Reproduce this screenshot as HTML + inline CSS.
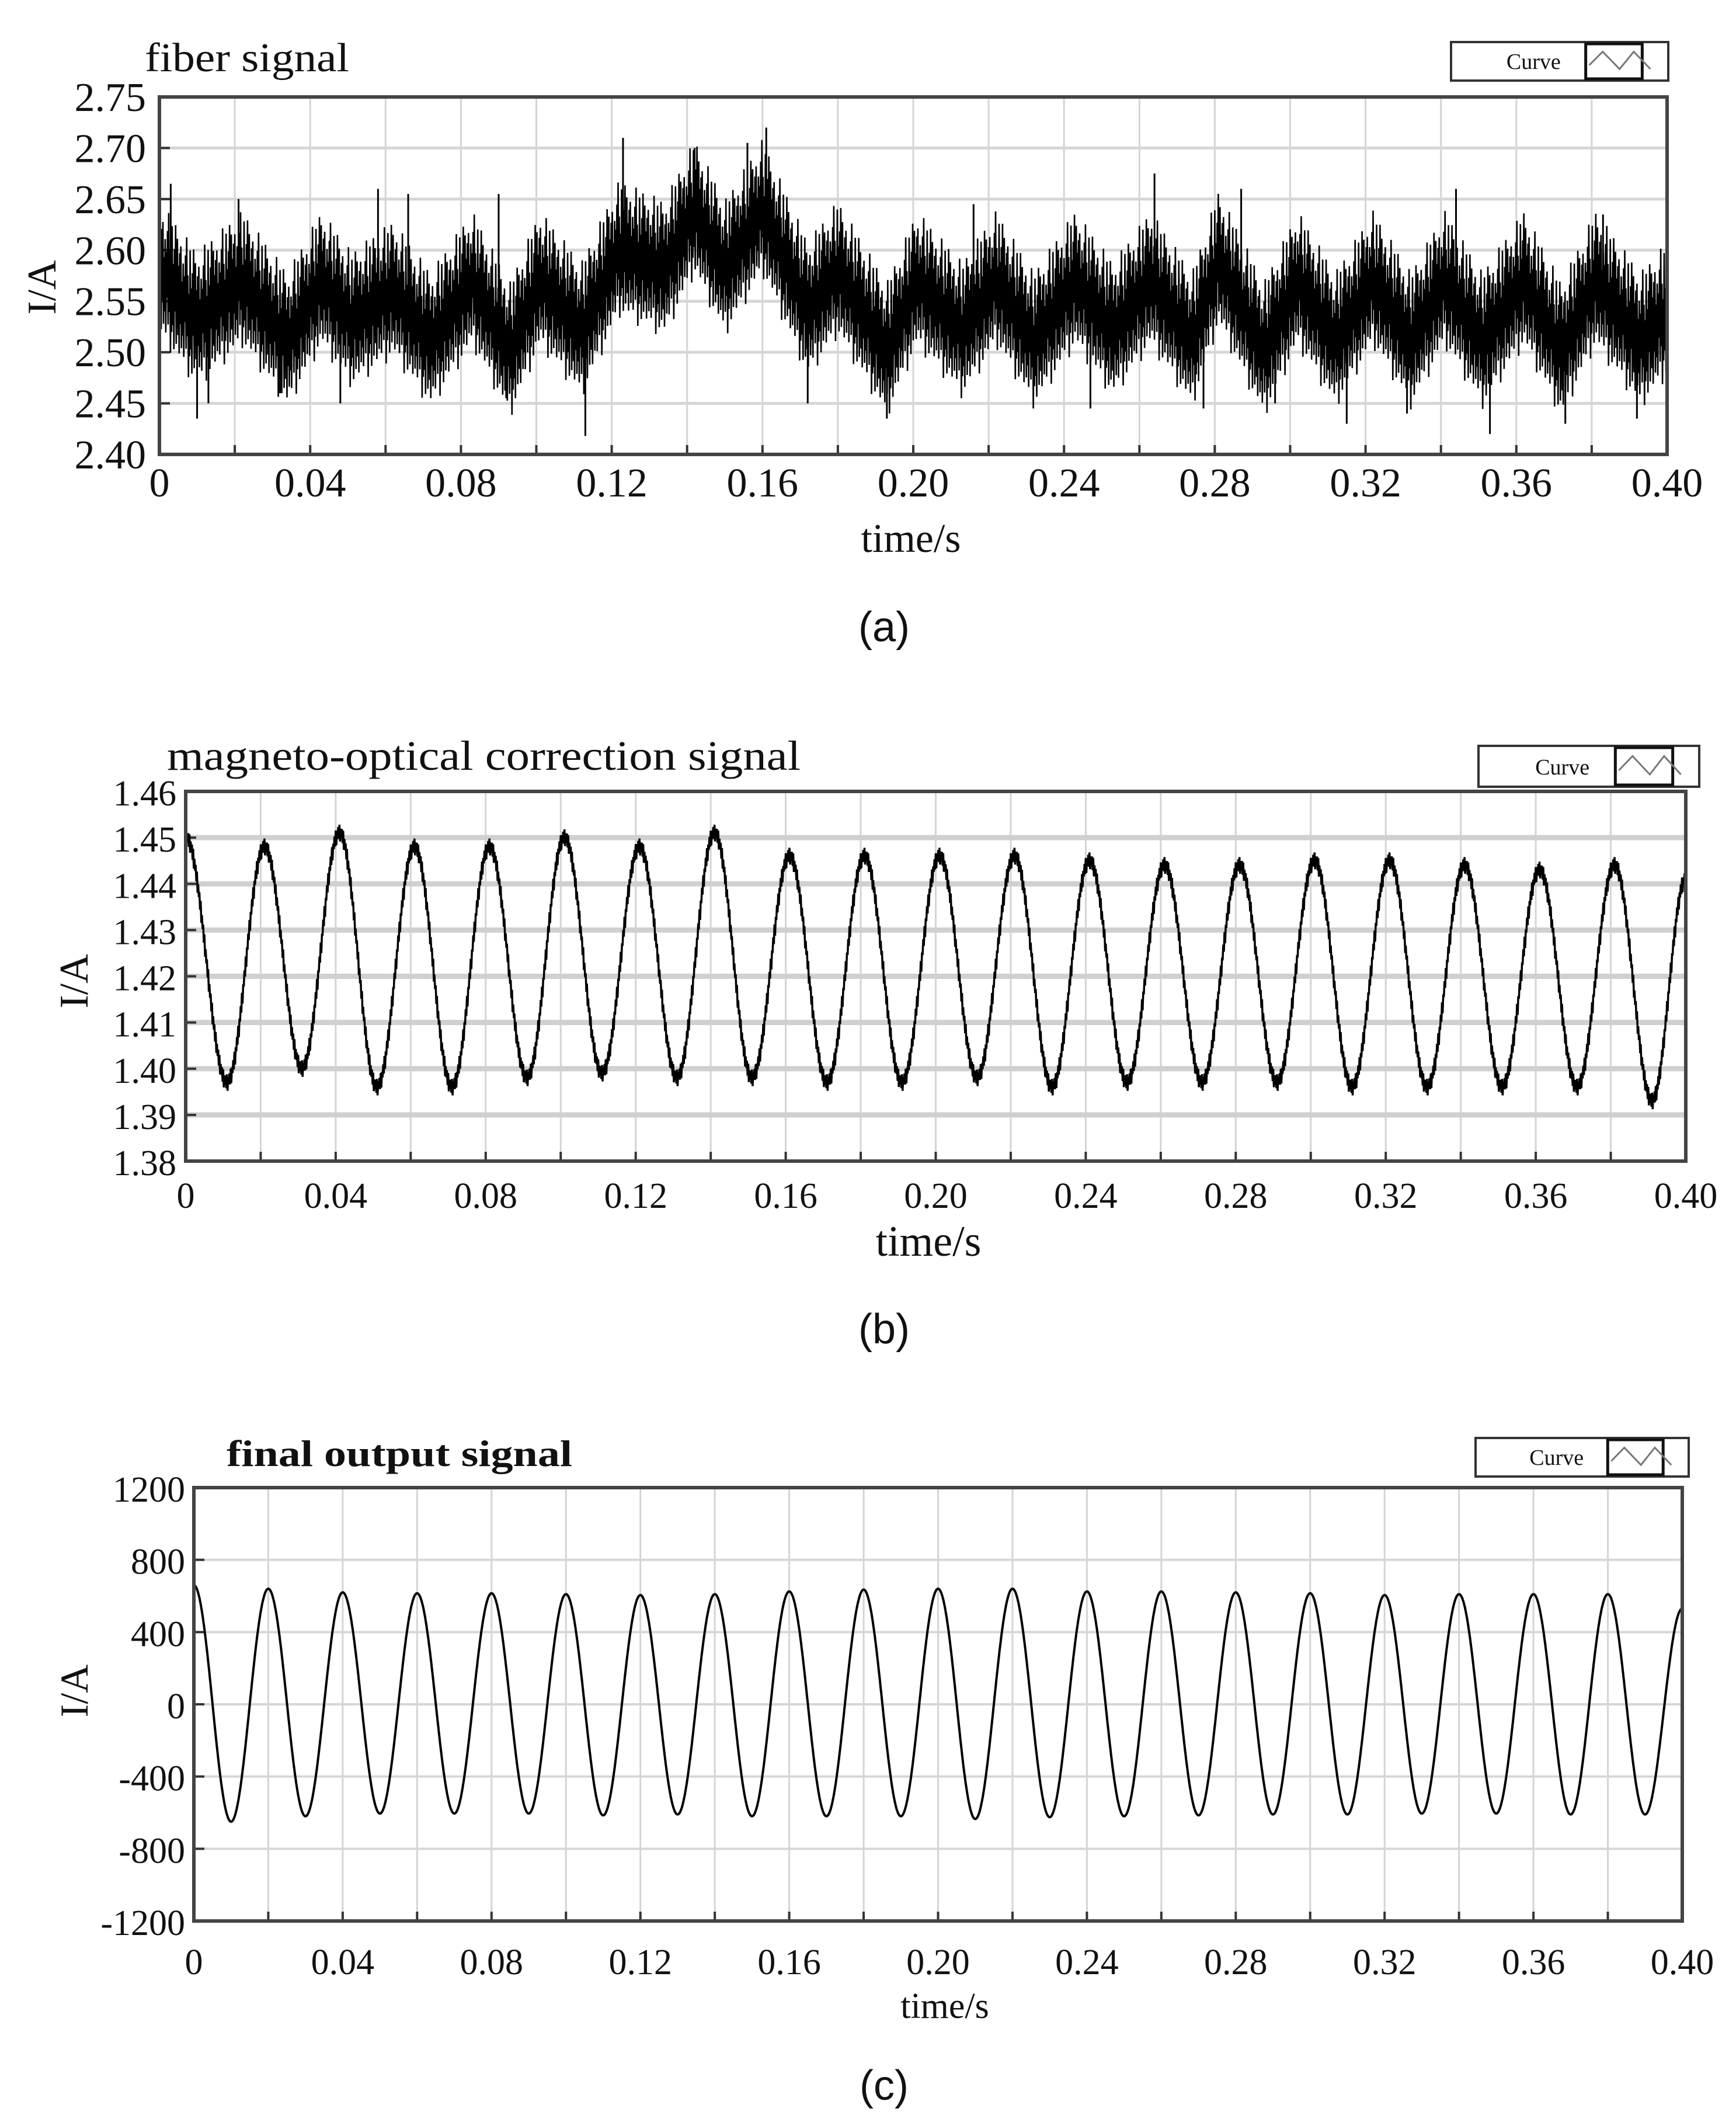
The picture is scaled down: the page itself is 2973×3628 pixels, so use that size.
<!DOCTYPE html>
<html><head><meta charset="utf-8"><style>
html,body{margin:0;padding:0;background:#fff;}
svg{display:block;}
text{font-family:"Liberation Serif",serif;fill:#111;}
</style></head><body>
<svg id="fig" width="2973" height="3628" viewBox="0 0 2973 3628" xmlns="http://www.w3.org/2000/svg">
<g id="pa"></g>
<g id="pb"></g>
<g id="pc"></g>
</svg>
<script>
// ---- panel (a) fiber signal data ----
const aTicksY = [2.40, 2.45, 2.50, 2.55, 2.60, 2.65, 2.70, 2.75];
const aTickLabelsY = ["2.40","2.45","2.50","2.55","2.60","2.65","2.70","2.75"];
const aCenterT = [0, 0.010, 0.022, 0.034, 0.043, 0.051, 0.062, 0.072, 0.083, 0.093, 0.101, 0.112, 0.122, 0.134, 0.142, 0.150, 0.160, 0.172, 0.180, 0.193, 0.201, 0.213, 0.222, 0.232, 0.243, 0.253, 0.263, 0.274, 0.281, 0.293, 0.302, 0.312, 0.322, 0.332, 0.341, 0.351, 0.362, 0.372, 0.381, 0.393, 0.400];
const aCenterV = [2.58, 2.53, 2.57, 2.51, 2.57, 2.53, 2.56, 2.51, 2.57, 2.50, 2.57, 2.52, 2.60, 2.58, 2.64, 2.58, 2.64, 2.54, 2.58, 2.50, 2.57, 2.52, 2.57, 2.51, 2.57, 2.52, 2.57, 2.51, 2.59, 2.50, 2.57, 2.51, 2.57, 2.51, 2.57, 2.51, 2.57, 2.50, 2.57, 2.51, 2.54];
const aSpikeT = [0.003, 0.010, 0.013, 0.021, 0.032, 0.048, 0.058, 0.066, 0.090, 0.092, 0.113, 0.123, 0.142, 0.156, 0.161, 0.172, 0.193, 0.216, 0.247, 0.264, 0.277, 0.287, 0.296, 0.315, 0.331, 0.344, 0.353, 0.373, 0.383, 0.392];
const aSpikeV = [2.665, 2.435, 2.45, 2.65, 2.46, 2.45, 2.66, 2.655, 2.655, 2.455, 2.418, 2.71, 2.70, 2.705, 2.72, 2.45, 2.435, 2.645, 2.445, 2.675, 2.445, 2.66, 2.45, 2.43, 2.44, 2.66, 2.42, 2.43, 2.635, 2.435];
// ---- panel (b) magneto-optical correction ----
const bTicksY = [1.38, 1.39, 1.40, 1.41, 1.42, 1.43, 1.44, 1.45, 1.46];
const bTickLabelsY = ["1.38","1.39","1.40","1.41","1.42","1.43","1.44","1.45","1.46"];
const bPeakV = [1.448, 1.451, 1.448, 1.448, 1.450, 1.448, 1.451, 1.446, 1.446, 1.446, 1.446, 1.445, 1.444, 1.444, 1.445, 1.445, 1.444, 1.443, 1.444];
const bTroughV = [1.397, 1.400, 1.396, 1.396, 1.398, 1.399, 1.398, 1.398, 1.397, 1.397, 1.398, 1.396, 1.397, 1.397, 1.397, 1.396, 1.396, 1.396, 1.396, 1.393];
const bStartV = 1.450, bEndV = 1.441;
// ---- panel (c) final output ----
const cTicksY = [-1200, -800, -400, 0, 400, 800, 1200];
const cTickLabelsY = ["-1200","-800","-400","0","400","800","1200"];
const cPeakV = [640, 620, 615, 615, 610, 605, 610, 625, 635, 640, 640, 625, 625, 620, 615, 605, 610, 610, 610];
const cTroughV = [-650, -620, -605, -605, -605, -615, -610, -620, -620, -620, -635, -625, -620, -615, -610, -610, -605, -605, -610, -610];
const cStartV = 660, cEndV = 530;
const xTicks = [0, 0.04, 0.08, 0.12, 0.16, 0.20, 0.24, 0.28, 0.32, 0.36, 0.40];
const xTickLabels = ["0","0.04","0.08","0.12","0.16","0.20","0.24","0.28","0.32","0.36","0.40"];

const NS = "http://www.w3.org/2000/svg";
function mk(parent, tag, attrs, txt) {
  const e = document.createElementNS(NS, tag);
  for (const k in attrs) e.setAttribute(k, attrs[k]);
  if (txt !== undefined) e.textContent = txt;
  parent.appendChild(e);
  return e;
}

function panel(g, cfg) {
  const {L, R, T, B, ymin, ymax, ticksY, labelsY, hgrid, hgridW} = cfg;
  const sx = t => L + (t / 0.4) * (R - L);
  const sy = v => B - (v - ymin) / (ymax - ymin) * (B - T);
  cfg.sx = sx; cfg.sy = sy;
  for (let k = 1; k < 20; k++) {
    const x = sx(k * 0.02);
    const gl = mk(g, "line", {x1: x, x2: x, y1: T, y2: B, stroke: "#d4d4d4", "stroke-width": 3});
    
    
    const tk = mk(g, "line", {x1: x, x2: x, y1: B - 16, y2: B, stroke: "#333", "stroke-width": 4});
    
    
  }
  ticksY.forEach((v, i) => {
    const y = sy(v);
    if (i > 0 && i < ticksY.length - 1) {
      const hl = mk(g, "line", {x1: L, x2: R, y1: y, y2: y, stroke: hgrid, "stroke-width": hgridW});
      
      
      const tk = mk(g, "line", {x1: L, x2: L + 18, y1: y, y2: y, stroke: "#333", "stroke-width": 4});
      
      
    }
    const tl = mk(g, "text", {x: cfg.ylabX, y: y + 24, "text-anchor": "end", "font-size": cfg.fs}, labelsY[i]);
    
    
  });
  xTicks.forEach((t, i) => {
    const tl = mk(g, "text", {x: sx(t), y: cfg.xlabY, "text-anchor": "middle", "font-size": cfg.fs}, xTickLabels[i]);
    
    
  });
}

function frame(g, cfg) {
  const f = mk(g, "rect", {x: cfg.L, y: cfg.T, width: cfg.R - cfg.L, height: cfg.B - cfg.T, fill: "none", stroke: "#444", "stroke-width": 6});
  
  
}

function decor(g, cfg) {
  const tt = mk(g, "text", {x: cfg.titleX, y: cfg.titleY, "font-size": cfg.titleFs, "font-weight": cfg.titleBold ? "bold" : "normal", textLength: cfg.titleW, lengthAdjust: "spacingAndGlyphs"}, cfg.title);
  
  
  const lg = mk(g, "g", {});
  
  
  const [lx, ly, lw, lh] = cfg.leg;
  mk(lg, "rect", {x: lx, y: ly, width: lw, height: lh, fill: "#fff", stroke: "#333", "stroke-width": 4});
  const lt = mk(lg, "text", {x: lx + lw * 0.38, y: ly + lh * 0.7, "text-anchor": "middle", "font-size": 38, "font-family": "Liberation Mono, monospace", fill: "#444"}, "Curve");
  
  
  const bx = lx + lw * 0.62, bw = lw * 0.26;
  mk(lg, "rect", {x: bx, y: ly + 3, width: bw, height: lh - 6, fill: "#fff", stroke: "#111", "stroke-width": 5});
  const sw = mk(lg, "polyline", {points: `${bx+6},${ly+lh*0.6} ${bx+bw*0.3},${ly+lh*0.25} ${bx+bw*0.6},${ly+lh*0.7} ${bx+bw*0.85},${ly+lh*0.25} ${bx+bw+14},${ly+lh*0.7}`, fill: "none", stroke: "#777", "stroke-width": 3});
  
  
  const yt = mk(g, "text", {x: 0, y: 0, transform: `translate(${cfg.yTitleX},${cfg.yTitleY}) rotate(-90)`, "text-anchor": "middle", "font-size": cfg.yfs || cfg.fs}, "I/A");
  
  
  const xt = mk(g, "text", {x: cfg.xTitleX, y: cfg.xTitleY, "text-anchor": "middle", "font-size": cfg.xfs || cfg.fs}, "time/s");
  
  
  const cap = mk(g, "text", {x: 1514, y: cfg.capY, "text-anchor": "middle", "font-size": 72, style: "font-family:'Liberation Sans',sans-serif"}, cfg.cap);
  
  
}

function interpLinear(ts, vs, t) {
  for (let i = 1; i < ts.length; i++) {
    if (t <= ts[i]) { const f = (t - ts[i-1]) / (ts[i] - ts[i-1]); return vs[i-1] + f * (vs[i] - vs[i-1]); }
  }
  return vs[vs.length - 1];
}
function interpCos(ts, vs, t) {
  for (let i = 1; i < ts.length; i++) {
    if (t <= ts[i]) { const f = (t - ts[i-1]) / (ts[i] - ts[i-1]); const w = (1 - Math.cos(Math.PI * f)) / 2; return vs[i-1] + w * (vs[i] - vs[i-1]); }
  }
  return vs[vs.length - 1];
}
function extrema(startV, peaks, troughs, endV, tTrough0, tPeak0) {
  const ts = [0], vs = [startV];
  for (let k = 0; k < troughs.length; k++) {
    ts.push(tTrough0 + 0.02 * k); vs.push(troughs[k]);
    if (k < peaks.length) { ts.push(tPeak0 + 0.02 * k); vs.push(peaks[k]); }
  }
  ts.push(0.4); vs.push(endV);
  return [ts, vs];
}

// ---------- Panel A ----------
const A = {L: 273, R: 2855, T: 166, B: 778, ymin: 2.40, ymax: 2.75, ticksY: aTicksY, labelsY: aTickLabelsY,
  hgrid: "#d6d6d6", hgridW: 5, ylabX: 250, xlabY: 850, fs: 70,
  title: "fiber signal", titleX: 248, titleY: 122, titleFs: 70, titleW: 350,
  leg: [2485, 72, 372, 66], yTitleX: 95, yTitleY: 492, xTitleX: 1560, xTitleY: 945, cap: "(a)", capY: 1098};
const ga = document.getElementById("pa");
panel(ga, A);
{
  const pat = [1, -0.7, 0.55, -1, 0.8, -0.45, 0.95, -0.85, 0.35, -0.6, 0.7, -0.95, 0.5, -0.3, 0.9, -0.75, 1.25, -0.5, 0.6, -1.2, 0.3, -0.8, 1.1, -0.65, 0.45, -1.05, 0.75, -0.35, 1.2, -0.9, 0.65];
  const N = 2600, w = 0.055;
  let d = "";
  for (let i = 0; i <= N; i++) {
    const t = i / N * 0.4;
    const v = interpLinear(aCenterT, aCenterV, t) + w * pat[i % pat.length];
    d += (i ? "L" : "M") + A.sx(t).toFixed(1) + "," + A.sy(v).toFixed(1);
  }
  const p = mk(ga, "path", {d, fill: "none", stroke: "#000", "stroke-width": 2.6});
  
  
  aSpikeT.forEach((t, i) => {
    const s = mk(ga, "line", {x1: A.sx(t), x2: A.sx(t), y1: A.sy(interpLinear(aCenterT, aCenterV, t)), y2: A.sy(aSpikeV[i]), stroke: "#000", "stroke-width": 3});
    
    
  });
}
frame(ga, A);
decor(ga, A);

// ---------- Panel B ----------
const Bc = {L: 318, R: 2887, T: 1355, B: 1988, ymin: 1.38, ymax: 1.46, ticksY: bTicksY, labelsY: bTickLabelsY,
  hgrid: "#d0d0d0", hgridW: 9, ylabX: 302, xlabY: 2068, fs: 62, xfs: 74, yfs: 70,
  title: "magneto-optical correction signal", titleX: 286, titleY: 1318, titleFs: 72, titleW: 1085,
  leg: [2532, 1277, 378, 70], yTitleX: 150, yTitleY: 1680, xTitleX: 1590, xTitleY: 2150, cap: "(b)", capY: 2300};
const gb = document.getElementById("pb");
panel(gb, Bc);
{
  const [ts, vs] = extrema(bStartV, bPeakV, bTroughV, bEndV, 0.011, 0.021);
  const pat = [1, -1, 0.6, -0.4, 0.8, -0.7];
  const N = 2400, w = 0.0018;
  let d = "";
  for (let i = 0; i <= N; i++) {
    const t = i / N * 0.4;
    const v = interpCos(ts, vs, t) + w * pat[i % pat.length];
    d += (i ? "L" : "M") + Bc.sx(t).toFixed(1) + "," + Bc.sy(v).toFixed(1);
  }
  const p = mk(gb, "path", {d, fill: "none", stroke: "#000", "stroke-width": 3.5});
  
  
}
frame(gb, Bc);
decor(gb, Bc);

// ---------- Panel C ----------
const Cc = {L: 332, R: 2881, T: 2547, B: 3289, ymin: -1200, ymax: 1200, ticksY: cTicksY, labelsY: cTickLabelsY,
  hgrid: "#d6d6d6", hgridW: 4, ylabX: 317, xlabY: 3380, fs: 62, yfs: 68,
  title: "final output signal", titleX: 388, titleY: 2510, titleFs: 64, titleW: 592, titleBold: true,
  leg: [2527, 2462, 365, 66], yTitleX: 150, yTitleY: 2895, xTitleX: 1618, xTitleY: 3455, cap: "(c)", capY: 3595};
const gc = document.getElementById("pc");
panel(gc, Cc);
{
  const [ts, vs] = extrema(cStartV, cPeakV, cTroughV, cEndV, 0.010, 0.020);
  const N = 2400;
  let d = "";
  for (let i = 0; i <= N; i++) {
    const t = i / N * 0.4;
    const v = interpCos(ts, vs, t);
    d += (i ? "L" : "M") + Cc.sx(t).toFixed(1) + "," + Cc.sy(v).toFixed(1);
  }
  const p = mk(gc, "path", {d, fill: "none", stroke: "#000", "stroke-width": 4});
  
  
}
frame(gc, Cc);
decor(gc, Cc);
</script>
</body></html>
